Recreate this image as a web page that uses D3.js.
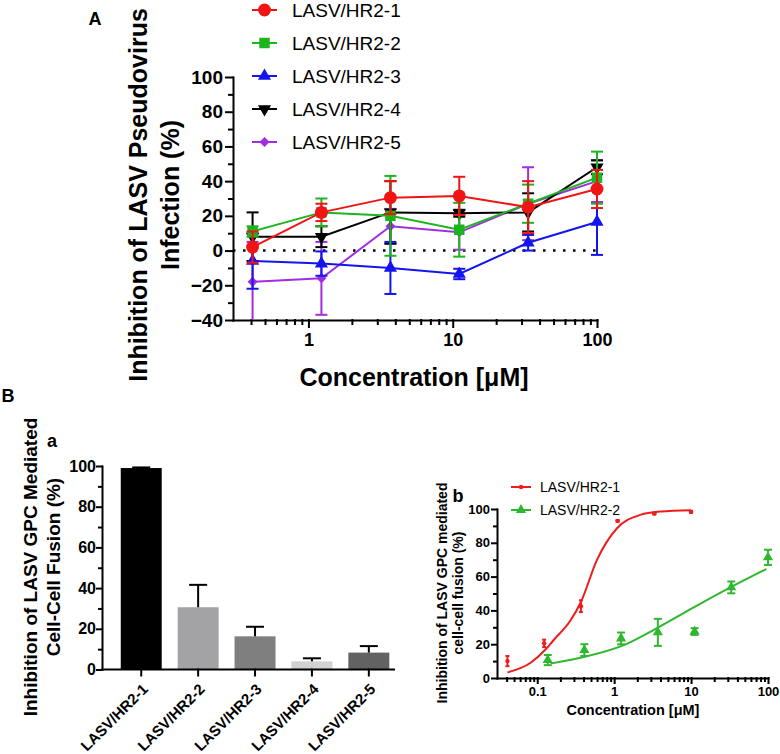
<!DOCTYPE html>
<html><head><meta charset="utf-8">
<script src="https://cdn.jsdelivr.net/npm/d3@7"></script>
<style>body{margin:0;background:#fff}svg{display:block}text{font-family:"Liberation Sans",Arial,sans-serif}</style>
</head><body><svg id="c" width="780" height="754"></svg>
<script>
// ---------- Panel A data ----------
const concA = [0.41, 1.23, 3.7, 11.1, 33.3, 100];
const namesA = ["LASV/HR2-1","LASV/HR2-2","LASV/HR2-3","LASV/HR2-4","LASV/HR2-5"];
const meanHR2_1 = [2, 22, 30.5, 31.5, 25, 35.5];
const errHR2_1  = [9, 5, 9.5, 11, 15, 11];
const meanHR2_2 = [11, 22, 20, 12, 27, 42];
const errHR2_2  = [3, 8, 23, 15.5, 11, 15];
const meanHR2_3 = [-6, -7.5, -10, -13.5, 4.5, 16.5];
const errHR2_3  = [16, 7, 15, 3, 4.5, 19];
const meanHR2_4 = [8, 8, 22, 21.5, 22, 48];
const errHR2_4  = [14, 6, 18, 2, 11, 4];
const meanHR2_5 = [-18, -16, 14, 10.5, 27, 40];
const errHR2_5  = [23, 21, 10, 10, 21, 12];
const colorsA = ["#f01414","#1db41d","#1414f0","#000000","#a02ee0"];
const yTicksA = [-40,-20,0,20,40,60,80,100];
const yMinorA = [-30,-10,10,30,50,70,90];
const xTicksA = [1,10,100];
const xMinorA = [0.4,0.5,0.6,0.7,0.8,0.9,2,3,4,5,6,7,8,9,20,30,40,50,60,70,80,90];

// ---------- Panel B-a data ----------
const barLabels = ["LASV/HR2-1","LASV/HR2-2","LASV/HR2-3","LASV/HR2-4","LASV/HR2-5"];
const barValues = [99, 30.6, 16.3, 4, 8.3];
const barErrors = [0.3, 11, 4.7, 1.5, 3.2];
const barColors = ["#000000","#a3a3a6","#7f7f7f","#d2d2d2","#626262"];
const yTicksBa = [0,20,40,60,80,100];
const yMinorBa = [10,30,50,70,90];

// ---------- Panel B-b data ----------
const concB1 = [0.041, 0.123, 0.37, 1.11, 3.33, 10];
const valB1  = [10, 20.5, 42.5, 93, 97.3, 98.3];
const errB1  = [3, 2.2, 3.5, 0.5, 0.5, 0.6];
const fitB1X = [0.041, 0.082, 0.129, 0.164, 0.27, 0.37, 0.6, 1.09, 2.18, 4, 10];
const fitB1Y = [3.3, 9, 17, 22.5, 34, 45, 70, 88.6, 96.5, 98.5, 99.3];
const concB2 = [0.137, 0.41, 1.23, 3.7, 11.1, 33.3, 100];
const valB2  = [10.6, 16.5, 23.4, 27, 27.5, 53.6, 71.4];
const errB2  = [3, 3.5, 3.5, 8, 2, 3.5, 4.5];
const fitB2X = [0.149, 0.43, 1.26, 3.76, 11, 32, 95];
const fitB2Y = [8.5, 12.7, 19, 30, 42, 53.5, 64.5];
const namesB = ["LASV/HR2-1","LASV/HR2-2"];
const colorsB = ["#ee1c1c","#2fb82f"];
const yTicksBb = [0,20,40,60,80,100];
const yMinorBb = [10,30,50,70,90];
const xTicksBb = [0.1,1,10,100];
const xMinorBb = [0.04,0.05,0.06,0.07,0.08,0.09,0.2,0.3,0.4,0.5,0.6,0.7,0.8,0.9,2,3,4,5,6,7,8,9,20,30,40,50,60,70,80,90];

const svg = d3.select("#c");
svg.append("rect").attr("width",780).attr("height",754).attr("fill","#fff");

function styleAxis(g, fs, sw) {
  g.selectAll("path,line").attr("stroke","#000").attr("stroke-width",sw).attr("stroke-linecap","square");
  g.selectAll("text").attr("fill","#000").attr("font-weight","bold").attr("font-size",fs)
    .attr("font-family",'"Liberation Sans", Arial, sans-serif');
}
function minor(g){ g.select(".domain").remove(); }
const fmtNum = d => (d >= 1 ? d3.format("d")(d) : String(d));

// ================= Panel A =================
const xA = d3.scaleLog().domain([0.3,100]).range([233,597]);
const yA = d3.scaleLinear().domain([-40,100]).range([320,77]).clamp(true);
const gA = svg.append("g");

gA.append("g").attr("transform","translate(233,0)")
  .call(d3.axisLeft(yA).tickValues(yTicksA).tickSize(7).tickSizeOuter(0).tickPadding(3))
  .call(styleAxis, 19, 2);
gA.append("g").attr("transform","translate(233,0)")
  .call(d3.axisLeft(yA).tickValues(yMinorA).tickSize(4).tickFormat(""))
  .call(minor).call(styleAxis, 19, 2);
gA.append("g").attr("transform","translate(0,320)")
  .call(d3.axisBottom(xA).tickValues(xTicksA).tickSize(7).tickSizeOuter(0).tickPadding(6).tickFormat(d3.format("d")))
  .call(styleAxis, 18, 2);
gA.append("g").attr("transform","translate(0,320)")
  .call(d3.axisBottom(xA).tickValues(xMinorA).tickSize(4).tickFormat(""))
  .call(minor).call(styleAxis, 18, 2);

// zero dotted line
gA.append("line").attr("x1",xA(0.3)).attr("x2",xA(100)).attr("y1",yA(0)).attr("y2",yA(0))
  .attr("stroke","#000").attr("stroke-width",2.5).attr("stroke-dasharray","2.5,7.5");

const meansA = [meanHR2_1, meanHR2_2, meanHR2_3, meanHR2_4, meanHR2_5];
const errsA = [errHR2_1, errHR2_2, errHR2_3, errHR2_4, errHR2_5];
const symA = [
  {t:d3.symbolCircle, s:130, r:0},
  {t:d3.symbolSquare, s:110, r:0},
  {t:d3.symbolTriangle, s:75, r:0},
  {t:d3.symbolTriangle, s:75, r:180},
  {t:d3.symbolSquare, s:50, r:45}
];
for (let k = 4; k >= 0; k--) {
  const pts = concA.map((c,i)=>({x:c, y:meansA[k][i], e:errsA[k][i]}));
  const g = gA.append("g");
  const eb = g.selectAll(".eb").data(pts).enter().append("g");
  eb.append("line").attr("x1",d=>xA(d.x)).attr("x2",d=>xA(d.x))
    .attr("y1",d=>yA(d.y-d.e)).attr("y2",d=>yA(d.y+d.e))
    .attr("stroke",colorsA[k]).attr("stroke-width",2);
  eb.append("line").attr("x1",d=>xA(d.x)-6).attr("x2",d=>xA(d.x)+6)
    .attr("y1",d=>yA(d.y+d.e)).attr("y2",d=>yA(d.y+d.e))
    .attr("stroke",colorsA[k]).attr("stroke-width",2);
  eb.filter(d=>d.y-d.e > -40).append("line").attr("x1",d=>xA(d.x)-6).attr("x2",d=>xA(d.x)+6)
    .attr("y1",d=>yA(d.y-d.e)).attr("y2",d=>yA(d.y-d.e))
    .attr("stroke",colorsA[k]).attr("stroke-width",2);
  g.append("path").datum(pts)
    .attr("d", d3.line().x(d=>xA(d.x)).y(d=>yA(d.y)))
    .attr("fill","none").attr("stroke",colorsA[k]).attr("stroke-width",2);
  g.selectAll(".pt").data(pts).enter().append("path")
    .attr("transform",d=>`translate(${xA(d.x)},${yA(d.y)}) rotate(${symA[k].r})`)
    .attr("d", d3.symbol().type(symA[k].t).size(symA[k].s)())
    .attr("fill",colorsA[k]);
}

// legend A
namesA.forEach((n,i)=>{
  const y = 10 + 33*i;
  gA.append("line").attr("x1",252).attr("x2",277).attr("y1",y).attr("y2",y)
    .attr("stroke",colorsA[i]).attr("stroke-width",2);
  gA.append("path").attr("transform",`translate(264.5,${y}) rotate(${symA[i].r})`)
    .attr("d", d3.symbol().type(symA[i].t).size(symA[i].s)()).attr("fill",colorsA[i]);
  gA.append("text").attr("x",292).attr("y",y).attr("dy","0.36em")
    .attr("font-size",19).text(n);
});

// titles A
gA.append("text").attr("transform","translate(147,195) rotate(-90)").attr("text-anchor","middle")
  .attr("font-size",25).attr("font-weight","bold").text("Inhibition of LASV Pseudovirus");
gA.append("text").attr("transform","translate(179,195) rotate(-90)").attr("text-anchor","middle")
  .attr("font-size",25).attr("font-weight","bold").text("Infection (%)");
gA.append("text").attr("x",414).attr("y",386).attr("text-anchor","middle")
  .attr("font-size",25).attr("font-weight","bold").text("Concentration [\u03bcM]");
gA.append("text").attr("x",95).attr("y",19).attr("dy","0.36em").attr("text-anchor","middle")
  .attr("font-size",18).attr("font-weight","bold").text("A");

// ================= Panel B-a =================
svg.append("text").attr("x",8).attr("y",396).attr("dy","0.36em").attr("text-anchor","middle")
  .attr("font-size",18).attr("font-weight","bold").text("B");
svg.append("text").attr("x",52).attr("y",442).attr("dy","0.3em").attr("text-anchor","middle")
  .attr("font-size",18).attr("font-weight","bold").text("a");

const ya = d3.scaleLinear().domain([0,100]).range([669.5,466]);
const xa = d3.scaleBand().domain(barLabels).range([102,394]).paddingInner(0.28).paddingOuter(0.206).align(0.8);
const ga = svg.append("g");
ga.selectAll(".bar").data(barLabels).enter().append("rect")
  .attr("x",d=>xa(d)).attr("width",xa.bandwidth())
  .attr("y",(d,i)=>ya(barValues[i])).attr("height",(d,i)=>ya(0)-ya(barValues[i]))
  .attr("fill",(d,i)=>barColors[i]);
ga.selectAll(".err").data(barLabels).enter().append("g").each(function(d,i){
  const cx = xa(d) + xa.bandwidth()/2;
  const g = d3.select(this);
  g.append("line").attr("x1",cx).attr("x2",cx).attr("y1",ya(barValues[i])).attr("y2",ya(barValues[i]+barErrors[i]))
    .attr("stroke","#000").attr("stroke-width",2);
  g.append("line").attr("x1",cx-9).attr("x2",cx+9).attr("y1",ya(barValues[i]+barErrors[i])).attr("y2",ya(barValues[i]+barErrors[i]))
    .attr("stroke","#000").attr("stroke-width",2);
});
ga.append("g").attr("transform","translate(102,0)")
  .call(d3.axisLeft(ya).tickValues(yTicksBa).tickSize(5).tickSizeOuter(0).tickPadding(1))
  .call(styleAxis, 16, 2);
ga.append("g").attr("transform","translate(102,0)")
  .call(d3.axisLeft(ya).tickValues(yMinorBa).tickSize(3).tickFormat(""))
  .call(minor).call(styleAxis, 16, 2);
const xaAxis = ga.append("g").attr("transform",`translate(0,${ya(0)})`)
  .call(d3.axisBottom(xa).tickSize(6).tickSizeOuter(0))
  .call(styleAxis, 15, 2);
xaAxis.select(".domain").attr("d","M102,0H394");
xaAxis.selectAll(".tick text").attr("x",0).attr("y",0).attr("dy","0.72em")
  .attr("text-anchor","end").attr("transform","translate(0,13) rotate(-45)");

ga.append("text").attr("transform","translate(37,567) rotate(-90)").attr("text-anchor","middle")
  .attr("font-size",19).attr("font-weight","bold").text("Inhibition of LASV GPC Mediated");
ga.append("text").attr("transform","translate(60,567) rotate(-90)").attr("text-anchor","middle")
  .attr("font-size",19).attr("font-weight","bold").text("Cell-Cell Fusion (%)");

// ================= Panel B-b =================
const xb = d3.scaleLog().domain([0.03,100]).range([497,768]);
const yb = d3.scaleLinear().domain([0,100]).range([678,509]);
const gb = svg.append("g");
gb.append("text").attr("x",458).attr("y",497).attr("dy","0.3em").attr("text-anchor","middle")
  .attr("font-size",18).attr("font-weight","bold").text("b");

gb.append("g").attr("transform","translate(497,0)")
  .call(d3.axisLeft(yb).tickValues(yTicksBb).tickSize(5).tickSizeOuter(0).tickPadding(2))
  .call(styleAxis, 13, 2);
gb.append("g").attr("transform","translate(497,0)")
  .call(d3.axisLeft(yb).tickValues(yMinorBb).tickSize(3).tickFormat(""))
  .call(minor).call(styleAxis, 13, 2);
gb.append("g").attr("transform","translate(0,678)")
  .call(d3.axisBottom(xb).tickValues(xTicksBb).tickSize(5).tickSizeOuter(0).tickPadding(4).tickFormat(fmtNum))
  .call(styleAxis, 13, 2);
gb.append("g").attr("transform","translate(0,678)")
  .call(d3.axisBottom(xb).tickValues(xMinorBb).tickSize(3).tickFormat(""))
  .call(minor).call(styleAxis, 13, 2);

const lineB = d3.line().x(d=>xb(d[0])).y(d=>yb(d[1])).curve(d3.curveMonotoneX);
gb.append("path").datum(fitB1X.map((x,i)=>[x,fitB1Y[i]])).attr("d",lineB)
  .attr("fill","none").attr("stroke",colorsB[0]).attr("stroke-width",2);
gb.append("path").datum(fitB2X.map((x,i)=>[x,fitB2Y[i]])).attr("d",lineB)
  .attr("fill","none").attr("stroke",colorsB[1]).attr("stroke-width",2);

function errB(conc, val, err, col, cw) {
  const g = gb.append("g");
  conc.forEach((c,i)=>{
    const x = xb(c);
    g.append("line").attr("x1",x).attr("x2",x).attr("y1",yb(val[i]-err[i])).attr("y2",yb(val[i]+err[i]))
      .attr("stroke",col).attr("stroke-width",2);
    [val[i]-err[i], val[i]+err[i]].forEach(v=>{
      g.append("line").attr("x1",x-cw).attr("x2",x+cw).attr("y1",yb(v)).attr("y2",yb(v))
        .attr("stroke",col).attr("stroke-width",2);
    });
  });
  return g;
}
const g1 = errB(concB1, valB1, errB1, colorsB[0], 2);
g1.selectAll(".p").data(concB1).enter().append("circle")
  .attr("cx",d=>xb(d)).attr("cy",(d,i)=>yb(valB1[i])).attr("r",2.2).attr("fill",colorsB[0]);
const g2 = errB(concB2, valB2, errB2, colorsB[1], 4);
g2.selectAll(".p").data(concB2).enter().append("path")
  .attr("transform",(d,i)=>`translate(${xb(d)},${yb(valB2[i])})`)
  .attr("d", d3.symbol().type(d3.symbolTriangle).size(45)()).attr("fill",colorsB[1]);

// legend B
namesB.forEach((n,i)=>{
  const y = 487 + 23*i;
  gb.append("line").attr("x1",511).attr("x2",531).attr("y1",y).attr("y2",y)
    .attr("stroke",colorsB[i]).attr("stroke-width",2);
  if (i===0) gb.append("circle").attr("cx",521).attr("cy",y).attr("r",2.2).attr("fill",colorsB[i]);
  else gb.append("path").attr("transform",`translate(521,${y})`)
    .attr("d", d3.symbol().type(d3.symbolTriangle).size(45)()).attr("fill",colorsB[i]);
  gb.append("text").attr("x",540).attr("y",y).attr("dy","0.36em").attr("font-size",14).text(n);
});

gb.append("text").attr("transform","translate(447,593) rotate(-90)").attr("text-anchor","middle")
  .attr("font-size",14).attr("font-weight","bold").text("Inhibition of LASV GPC mediated");
gb.append("text").attr("transform","translate(463,593) rotate(-90)").attr("text-anchor","middle")
  .attr("font-size",14).attr("font-weight","bold").text("cell-cell fusion (%)");
gb.append("text").attr("x",633).attr("y",715).attr("text-anchor","middle")
  .attr("font-size",14.5).attr("font-weight","bold").text("Concentration [\u03bcM]");
</script></body></html>
